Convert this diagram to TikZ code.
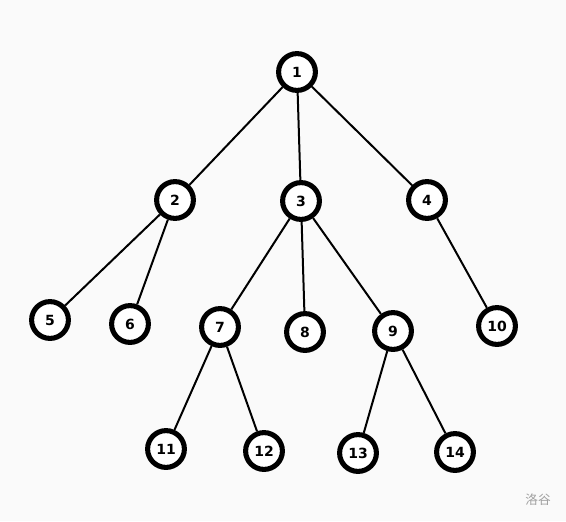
\documentclass[tikz,border=0pt]{standalone}
\usepackage{fontspec}
\setmainfont{DejaVu Sans}
\newfontfamily\cjkfont{Noto Sans CJK SC}
\usepackage[compat=1.1.0]{tikz-feynman}
\definecolor{pagebg}{RGB}{250,250,250}
\definecolor{markgray}{RGB}{160,160,160}
\tikzset{
  treenode/.style={draw, circle, line width=3.8pt, minimum size=27.6pt,
    inner sep=0pt, fill=white, font=\bfseries\fontsize{10.5}{10.5}\selectfont},
}

\begin{document}
\begin{tikzpicture}[x=0.75pt, y=-0.75pt]
  \fill[pagebg] (0,0) rectangle (566,521);
  \useasboundingbox (0,0) rectangle (566,521);
  \begin{feynman}
    \vertex [treenode] (n1) at (297,72) {1};
    \vertex [treenode] (n2) at (175,200) {2};
    \vertex [treenode] (n3) at (301,201) {3};
    \vertex [treenode] (n4) at (427,200) {4};
    \vertex [treenode] (n5) at (50,320) {5};
    \vertex [treenode] (n6) at (130,324) {6};
    \vertex [treenode] (n7) at (220,327) {7};
    \vertex [treenode] (n8) at (305,332) {8};
    \vertex [treenode] (n9) at (393,331) {9};
    \vertex [treenode] (n10) at (497,326) {10};
    \vertex [treenode] (n11) at (166,449) {11};
    \vertex [treenode] (n12) at (264,451) {12};
    \vertex [treenode] (n13) at (358,453) {13};
    \vertex [treenode] (n14) at (455,452) {14};
    \diagram* [edges={line width=1.5pt}] {
      (n1) -- (n2), (n1) -- (n3), (n1) -- (n4),
      (n2) -- (n5), (n2) -- (n6),
      (n3) -- (n7), (n3) -- (n8), (n3) -- (n9),
      (n4) -- (n10),
      (n7) -- (n11), (n7) -- (n12),
      (n9) -- (n13), (n9) -- (n14),
    };
  \end{feynman}
  \node [text=markgray, font=\cjkfont\fontsize{9.5}{10}\selectfont] (mark) at (538,500) {洛谷};
\end{tikzpicture}
\end{document}
